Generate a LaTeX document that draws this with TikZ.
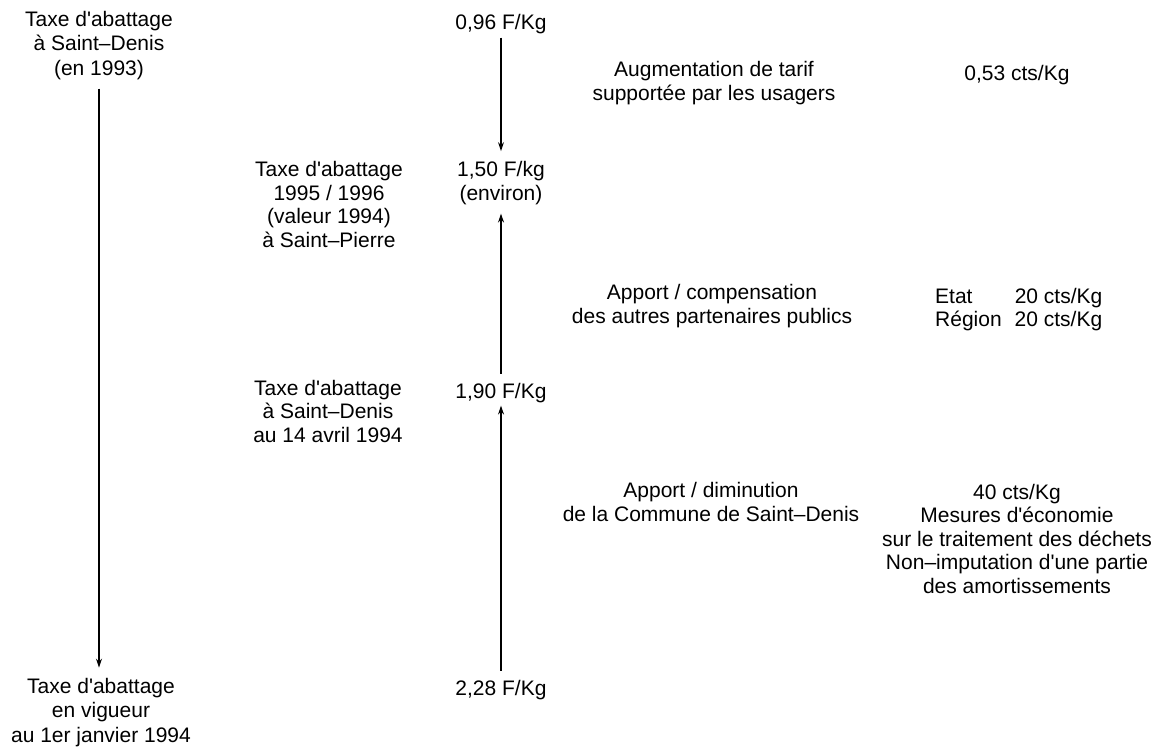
\documentclass[tikz,border=0pt]{standalone}
\usepackage{fontspec}
\setmainfont{Liberation Sans}[Ligatures=TeXOff]
\usetikzlibrary{arrows.meta}
\begin{document}
\begin{tikzpicture}[x=1pt,y=-1pt,
  lbl/.style={align=center, inner sep=0pt, anchor=base, font=\fontsize{21}{23.5}\selectfont},
  lblw/.style={lbl, font=\fontsize{21}{24.5}\selectfont},
  arr/.style={line width=1.2pt, -{Stealth[length=9pt,width=6pt]}}]
\useasboundingbox (0,0) rectangle (1160,748);
% left column
\node[lblw] (tl) at (99,75) {Taxe d'abattage\\à Saint–Denis\\(en 1993)};
\node[lblw] (bl) at (101,742) {Taxe d'abattage\\en vigueur\\au 1er janvier 1994};
% value column
\node[lbl] (v1) at (501,29) {0,96 F/Kg};
\node[lbl] (v2) at (501,200) {1,50 F/kg\\(environ)};
\node[lbl] (v3) at (501,398) {1,90 F/Kg};
\node[lbl] (v4) at (501,695) {2,28 F/Kg};
% middle-left labels
\node[lbl] (m1) at (329,247) {Taxe d'abattage\\1995 / 1996\\(valeur 1994)\\à Saint–Pierre};
\node[lbl] (m2) at (328,442) {Taxe d'abattage\\à Saint–Denis\\au 14 avril 1994};
% middle-right labels
\node[lbl] (r1) at (714,100) {Augmentation de tarif\\supportée par les usagers};
\node[lbl] (r2) at (712,323) {Apport / compensation\\des autres partenaires publics};
\node[lbl] (r3) at (711,521) {Apport / diminution\\de la Commune de Saint–Denis};
% far right
\node[lbl] (f1) at (1017,80) {0,53 cts/Kg};
\node[lbl, anchor=base west, align=left] (f2) at (935,303) {\begin{tabular}[t]{@{}l@{\hspace{13pt}}l@{}}Etat & 20 cts/Kg\\Région & 20 cts/Kg\end{tabular}};
\node[lbl] (f3) at (1017,593) {40 cts/Kg\\Mesures d'économie\\sur le traitement des déchets\\Non–imputation d'une partie\\des amortissements};
% arrows
\draw[arr, shorten <=9pt, shorten >=10pt] (tl.south) -- (tl.south |- bl.north);
\draw[arr, shorten <=4pt, shorten >=10pt] (v1.south) -- (v1.south |- v2.north);
\draw[arr, shorten <=9pt, shorten >=9pt] (v3.north) -- (v3.north |- v2.south);
\draw[arr, shorten <=9pt, shorten >=3pt] (v4.north) -- (v4.north |- v3.south);
\end{tikzpicture}
\end{document}
